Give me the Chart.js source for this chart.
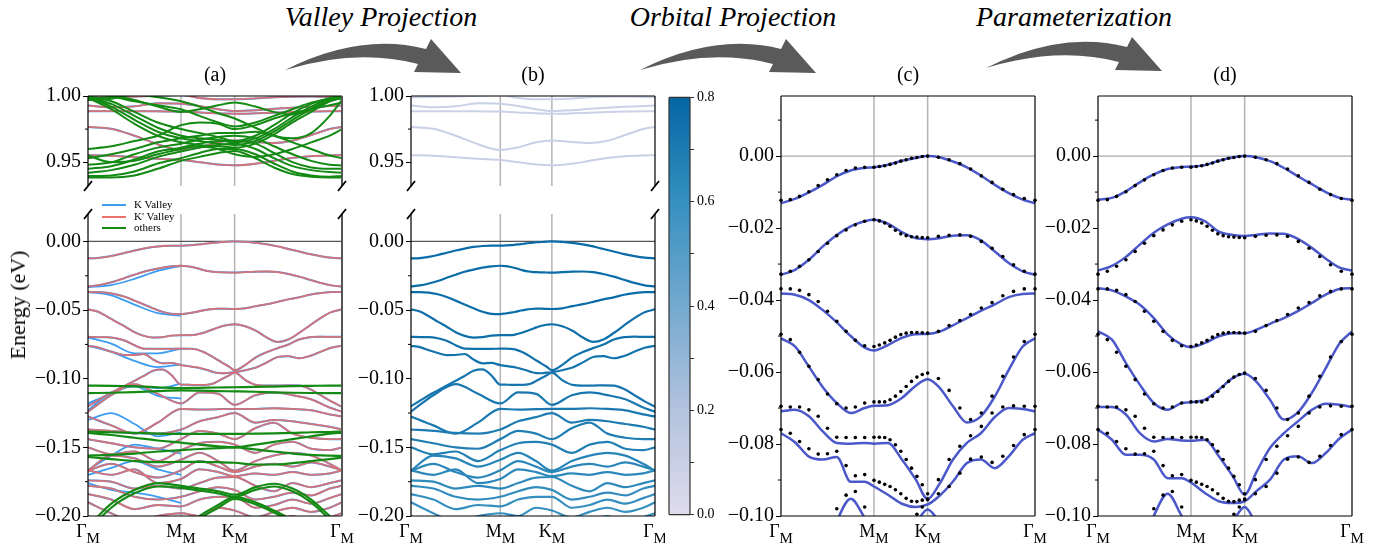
<!DOCTYPE html>
<html>
<head>
<meta charset="utf-8">
<title>Band structure projections</title>
<script src="https://cdn.jsdelivr.net/npm/chart.js@4.4.1/dist/chart.umd.min.js"></script>
<style>
  body { margin: 0; width: 1393px; height: 550px; position: relative; overflow: hidden; background: #fff;
         font-family: 'Liberation Serif', 'Times New Roman', serif; color: #000; }
  canvas { position: absolute; }
  .step { position: absolute; top: 3px; font-size: 28px; font-style: italic; line-height: 28px; transform: translateX(-50%); white-space: nowrap; z-index: 2; }
  .tag { position: absolute; top: 64px; font-size: 20px; line-height: 20px; transform: translateX(-50%); z-index: 2; }
  .ylab { position: absolute; left: 18px; top: 305px; font-size: 22px; line-height: 22px; white-space: nowrap; transform: translate(-50%, -50%) rotate(-90deg); z-index: 2; }
  .legend { position: absolute; left: 102px; top: 199px; font-size: 11px; line-height: 11.5px; z-index: 2; }
  .legend div { height: 11.5px; white-space: nowrap; }
  .legend i { display: inline-block; width: 24px; height: 2px; vertical-align: middle; margin-right: 8px; }
  svg { position: absolute; left: 0; top: 0; }
</style>
</head>
<body>
<svg width="1393" height="90">
  <g fill="#5a5a5a">
    <path transform="translate(285,70)" d="M0,0 Q75,-38 141,-21 L146,-31 L176,3 L129,2 L133,-6 Q72,-22 0,0 Z"/>
    <path transform="translate(640,70)" d="M0,0 Q75,-38 141,-21 L146,-31 L176,3 L129,2 L133,-6 Q72,-22 0,0 Z"/>
    <path transform="translate(986,68)" d="M0,0 Q75,-38 141,-21 L146,-31 L176,3 L129,2 L133,-6 Q72,-22 0,0 Z"/>
  </g>
</svg>
<div class="step" style="left:381px">Valley Projection</div>
<div class="step" style="left:733px">Orbital Projection</div>
<div class="step" style="left:1074px">Parameterization</div>
<div class="tag" style="left:215px">(a)</div>
<div class="tag" style="left:533px">(b)</div>
<div class="tag" style="left:908px">(c)</div>
<div class="tag" style="left:1225px">(d)</div>
<div class="ylab">Energy (eV)</div>
<div class="legend">
  <div><i style="background:#3d9cf2"></i>K Valley</div>
  <div><i style="background:#e8716c"></i>K' Valley</div>
  <div><i style="background:#138a13"></i>others</div>
</div>
<script>
// high-symmetry path Γ-M-K-Γ (path length units)
const K_TICKS = [0, 1, 1.5774, 2.7321];
const K_NAMES = ['Γ', 'M', 'K', 'Γ'];

// k grids
const K_DFT = [0, 0.1, 0.2, 0.3, 0.4, 0.5, 0.6, 0.7, 0.8, 0.9, 1.0,
  1.0577, 1.1155, 1.1732, 1.2309, 1.2887, 1.3464, 1.4041, 1.4619, 1.5196, 1.5774,
  1.6929, 1.8084, 1.9239, 2.0393, 2.1548, 2.2703, 2.3858, 2.5013, 2.6167, 2.7321];
const K_COARSE = [0, 0.25, 0.5, 0.75, 1, 1.2, 1.4, 1.5774, 1.8, 2.0, 2.2, 2.4, 2.6, 2.7321];
const K_FIT = [0, 0.15, 0.3, 0.45, 0.6, 0.75, 0.9, 1.0, 1.15, 1.3, 1.45, 1.5774, 1.7, 1.85, 2.0, 2.15, 2.3, 2.45, 2.6, 2.7321];
const K_GM = [0, 0.25, 0.5, 0.75, 1.0];

// top seven valence bands (DFT), also the dots of (c) and (d)
const DFT_BANDS = [
  [-0.0123,-0.0121,-0.0112,-0.0099,-0.0082,-0.0066,-0.0052,-0.0040,-0.0033,-0.0031,-0.0031,
   -0.0029,-0.0027,-0.0023,-0.0019,-0.0014,-0.0010,-0.0006,-0.0004,-0.0001,0.0000,
   -0.0003,-0.0010,-0.0021,-0.0036,-0.0055,-0.0073,-0.0092,-0.0107,-0.0118,-0.0123],
  [-0.0328,-0.0320,-0.0306,-0.0288,-0.0265,-0.0242,-0.0221,-0.0205,-0.0191,-0.0181,-0.0177,
   -0.0180,-0.0186,-0.0195,-0.0206,-0.0216,-0.0221,-0.0224,-0.0225,-0.0226,-0.0227,
   -0.0223,-0.0220,-0.0219,-0.0223,-0.0237,-0.0256,-0.0279,-0.0302,-0.0320,-0.0328],
  [-0.0369,-0.0369,-0.0373,-0.0385,-0.0404,-0.0431,-0.0459,-0.0487,-0.0512,-0.0527,-0.0529,
   -0.0525,-0.0519,-0.0512,-0.0503,-0.0496,-0.0492,-0.0490,-0.0490,-0.0491,-0.0492,
   -0.0487,-0.0471,-0.0457,-0.0440,-0.0422,-0.0407,-0.0388,-0.0376,-0.0369,-0.0369],
  [-0.0495,-0.0510,-0.0545,-0.0584,-0.0621,-0.0661,-0.0688,-0.0700,-0.0697,-0.0686,-0.0683,
   -0.0683,-0.0683,-0.0677,-0.0667,-0.0654,-0.0640,-0.0626,-0.0614,-0.0607,-0.0603,
   -0.0618,-0.0651,-0.0700,-0.0732,-0.0714,-0.0667,-0.0612,-0.0558,-0.0515,-0.0495],
  [-0.0695,-0.0697,-0.0697,-0.0705,-0.0723,-0.0756,-0.0781,-0.0782,-0.0782,-0.0782,-0.0781,
   -0.0781,-0.0782,-0.0788,-0.0802,-0.0820,-0.0843,-0.0867,-0.0890,-0.0913,-0.0938,
   -0.0899,-0.0843,-0.0806,-0.0777,-0.0751,-0.0714,-0.0697,-0.0694,-0.0695,-0.0695],
  [-0.0760,-0.0770,-0.0793,-0.0813,-0.0828,-0.0827,-0.0820,-0.0860,-0.0888,-0.0885,-0.0901,
   -0.0906,-0.0912,-0.0918,-0.0927,-0.0938,-0.0951,-0.0959,-0.0960,-0.0956,-0.0953,
   -0.0938,-0.0918,-0.0881,-0.0842,-0.0836,-0.0851,-0.0834,-0.0804,-0.0774,-0.0760],
  [-0.1200,-0.1160,-0.1120,-0.1085,-0.1050,-0.1015,-0.0980,-0.0942,-0.0932,-0.0975,-0.1043,
   -0.1043,-0.1045,-0.1045,-0.1045,-0.1043,-0.1035,-0.1015,-0.0995,-0.0975,-0.0955,
   -0.1010,-0.1045,-0.1050,-0.1050,-0.1048,-0.1050,-0.1075,-0.1120,-0.1165,-0.1205]
];

// deeper bands (coarse grid)
const LOW_BANDS = [
  [-0.1240,-0.1120,-0.1040,-0.1110,-0.1180,-0.1100,-0.1110,-0.1190,-0.1120,-0.1100,-0.1120,-0.1150,-0.1210,-0.1240],
  [-0.1275,-0.1340,-0.1400,-0.1320,-0.1220,-0.1225,-0.1222,-0.1220,-0.1220,-0.1215,-0.1220,-0.1230,-0.1260,-0.1275],
  [-0.1370,-0.1380,-0.1395,-0.1400,-0.1370,-0.1310,-0.1280,-0.1250,-0.1320,-0.1300,-0.1310,-0.1330,-0.1350,-0.1370],
  [-0.1440,-0.1470,-0.1500,-0.1510,-0.1440,-0.1380,-0.1400,-0.1440,-0.1360,-0.1320,-0.1400,-0.1430,-0.1440,-0.1440],
  [-0.1500,-0.1550,-0.1530,-0.1600,-0.1520,-0.1470,-0.1460,-0.1480,-0.1540,-0.1480,-0.1460,-0.1510,-0.1520,-0.1500],
  [-0.1670,-0.1560,-0.1580,-0.1640,-0.1590,-0.1540,-0.1600,-0.1670,-0.1600,-0.1560,-0.1540,-0.1560,-0.1620,-0.1670],
  [-0.1670,-0.1620,-0.1680,-0.1720,-0.1667,-0.1600,-0.1640,-0.1680,-0.1640,-0.1620,-0.1640,-0.1610,-0.1640,-0.1667],
  [-0.1667,-0.1700,-0.1660,-0.1760,-0.1730,-0.1660,-0.1680,-0.1710,-0.1690,-0.1700,-0.1680,-0.1700,-0.1690,-0.1667],
  [-0.1740,-0.1750,-0.1800,-0.1780,-0.1800,-0.1760,-0.1720,-0.1716,-0.1780,-0.1820,-0.1760,-0.1790,-0.1760,-0.1740],
  [-0.1780,-0.1800,-0.1860,-0.1880,-0.1860,-0.1820,-0.1790,-0.1810,-0.1880,-0.1860,-0.1830,-0.1850,-0.1800,-0.1780],
  [-0.1840,-0.1880,-0.1950,-0.1920,-0.1930,-0.1880,-0.1860,-0.1860,-0.1940,-0.1920,-0.1880,-0.1910,-0.1870,-0.1840],
  [-0.1900,-0.1980,-0.2040,-0.2000,-0.1980,-0.2000,-0.1940,-0.1960,-0.2010,-0.1970,-0.1940,-0.1970,-0.1940,-0.1900],
  [-0.2000,-0.2080,-0.2050,-0.2030,-0.2020,-0.2080,-0.2030,-0.2010,-0.2080,-0.2040,-0.2000,-0.2050,-0.2010,-0.1980]
];
// valley/orbital weight of bands 1..20 (colour of panel b)
const BAND_WEIGHT = [0.78,0.77,0.77,0.76,0.75,0.74,0.73,0.72,0.71,0.70,0.69,0.68,0.66,0.65,0.64,0.63,0.62,0.61,0.60,0.60];

// bands near 1 eV (coarse grid)
const TOP_BANDS = [
  [0.9990,0.9992,0.9996,1.0002,1.0008,0.9985,0.9975,0.9975,0.9982,0.9990,0.9995,0.9997,0.9993,0.9990],
  [0.9928,0.9915,0.9922,0.9945,0.9942,0.9925,0.9900,0.9886,0.9892,0.9903,0.9912,0.9918,0.9924,0.9928],
  [0.9885,0.9885,0.9885,0.9884,0.9882,0.9876,0.9869,0.9866,0.9869,0.9874,0.9879,0.9883,0.9885,0.9885],
  [0.9766,0.9752,0.9700,0.9635,0.9592,0.9612,0.9650,0.9664,0.9652,0.9645,0.9662,0.9705,0.9750,0.9766],
  [0.9553,0.9548,0.9538,0.9525,0.9517,0.9500,0.9482,0.9476,0.9488,0.9510,0.9532,0.9545,0.9551,0.9553]
];
const TOP_WEIGHT = [0.09,0.09,0.09,0.1,0.1];

// "others" bands of panel (a)
const GREEN_TOP = [
  [0.9385,0.9385,0.9400,0.9450,0.9510,0.9540,0.9570,0.9585,0.9530,0.9460,0.9410,0.9390,0.9385,0.9385],
  [0.9395,0.9400,0.9430,0.9490,0.9530,0.9570,0.9600,0.9600,0.9560,0.9490,0.9430,0.9400,0.9390,0.9395],
  [0.9420,0.9440,0.9480,0.9540,0.9580,0.9610,0.9630,0.9640,0.9600,0.9530,0.9470,0.9440,0.9425,0.9420],
  [0.9450,0.9470,0.9520,0.9580,0.9610,0.9640,0.9660,0.9660,0.9640,0.9570,0.9500,0.9460,0.9450,0.9450],
  [0.9480,0.9500,0.9560,0.9610,0.9640,0.9670,0.9690,0.9700,0.9680,0.9620,0.9560,0.9510,0.9480,0.9475],
  [0.9530,0.9560,0.9600,0.9650,0.9680,0.9700,0.9720,0.9720,0.9730,0.9700,0.9650,0.9600,0.9550,0.9530],
  [1.0000,0.9960,0.9880,0.9800,0.9750,0.9720,0.9690,0.9660,0.9700,0.9780,0.9870,0.9940,0.9985,1.0000],
  [0.9995,0.9940,0.9850,0.9760,0.9700,0.9680,0.9670,0.9650,0.9680,0.9750,0.9840,0.9920,0.9975,0.9995],
  [0.9990,0.9920,0.9820,0.9730,0.9680,0.9660,0.9640,0.9630,0.9660,0.9730,0.9820,0.9900,0.9970,0.9990],
  [0.9985,0.9900,0.9790,0.9700,0.9650,0.9630,0.9620,0.9610,0.9640,0.9710,0.9800,0.9880,0.9960,0.9985],
  [0.9980,0.9990,0.9960,0.9930,0.9900,0.9850,0.9800,0.9770,0.9800,0.9850,0.9900,0.9950,0.9975,0.9980],
  [1.0020,1.0000,0.9970,0.9920,0.9880,0.9900,0.9930,0.9950,0.9920,0.9880,0.9860,0.9900,0.9960,1.0010],
  [0.9970,0.9980,1.0010,0.9990,0.9960,0.9920,0.9870,0.9830,0.9760,0.9700,0.9680,0.9720,0.9850,0.9970],
  [0.9550,0.9500,0.9510,0.9560,0.9600,0.9620,0.9600,0.9560,0.9540,0.9560,0.9600,0.9650,0.9700,0.9750],
  [0.9600,0.9620,0.9660,0.9700,0.9780,0.9800,0.9790,0.9750,0.9780,0.9830,0.9870,0.9900,0.9930,0.9950]
];
const GREEN_LOW = [
  [-0.1050,-0.1052,-0.1056,-0.1062,-0.1068,-0.1066,-0.1064,-0.1062,-0.1060,-0.1057,-0.1054,-0.1052,-0.1050,-0.1050],
  [-0.1105,-0.1102,-0.1097,-0.1090,-0.1085,-0.1087,-0.1090,-0.1092,-0.1095,-0.1099,-0.1102,-0.1104,-0.1105,-0.1105],
  [-0.1385,-0.1390,-0.1395,-0.1400,-0.1402,-0.1402,-0.1402,-0.1402,-0.1400,-0.1398,-0.1395,-0.1390,-0.1388,-0.1385],
  [-0.1395,-0.1410,-0.1430,-0.1450,-0.1465,-0.1480,-0.1492,-0.1500,-0.1480,-0.1460,-0.1440,-0.1420,-0.1400,-0.1392],
  [-0.1560,-0.1555,-0.1545,-0.1530,-0.1520,-0.1512,-0.1505,-0.1500,-0.1515,-0.1530,-0.1545,-0.1555,-0.1560,-0.1562],
  [-0.1570,-0.1585,-0.1600,-0.1608,-0.1605,-0.1605,-0.1608,-0.1612,-0.1625,-0.1625,-0.1615,-0.1600,-0.1585,-0.1575],
  [-0.2080,-0.1910,-0.1810,-0.1760,-0.1780,-0.1800,-0.1820,-0.1845,-0.1790,-0.1765,-0.1800,-0.1880,-0.2000,-0.2080],
  [-0.2110,-0.1940,-0.1835,-0.1785,-0.1795,-0.1815,-0.1835,-0.1860,-0.1810,-0.1785,-0.1820,-0.1900,-0.2025,-0.2110],
  [-0.2400,-0.2350,-0.2300,-0.2220,-0.2120,-0.2000,-0.1920,-0.1860,-0.1900,-0.1960,-0.2030,-0.2120,-0.2220,-0.2300],
  [-0.2420,-0.2370,-0.2320,-0.2240,-0.2140,-0.2020,-0.1940,-0.1875,-0.1915,-0.1975,-0.2045,-0.2135,-0.2235,-0.2320]
];
// K-valley bands that split off along Γ-M
const BLUE_GM = [
  [-0.0332,-0.0318,-0.0272,-0.0214,-0.0177],
  [-0.0369,-0.0392,-0.0460,-0.0522,-0.0540],
  [-0.0700,-0.0745,-0.0815,-0.0815,-0.0780],
  [-0.0760,-0.0805,-0.0870,-0.0915,-0.0895],
  [-0.1180,-0.1110,-0.1050,-0.1070,-0.1036],
  [-0.1230,-0.1100,-0.1055,-0.1125,-0.1145],
  [-0.1300,-0.1250,-0.1330,-0.1420,-0.1390],
  [-0.1665,-0.1560,-0.1480,-0.1510,-0.1545],
  [-0.1700,-0.1650,-0.1600,-0.1660,-0.1700],
  [-0.1760,-0.1810,-0.1830,-0.1860,-0.1905]
];

// model bands, orbital projection (c) and parameterized (d)
const FIT_C = [
  [-0.0131,-0.0119,-0.0101,-0.0080,-0.0056,-0.0040,-0.0033,-0.0031,-0.0024,-0.0013,-0.0005,0.0000,-0.0003,-0.0015,-0.0031,-0.0054,-0.0080,-0.0103,-0.0121,-0.0131],
  [-0.0330,-0.0316,-0.0288,-0.0251,-0.0219,-0.0195,-0.0181,-0.0177,-0.0188,-0.0211,-0.0228,-0.0231,-0.0228,-0.0221,-0.0220,-0.0234,-0.0265,-0.0297,-0.0320,-0.0330],
  [-0.0382,-0.0385,-0.0400,-0.0428,-0.0462,-0.0500,-0.0532,-0.0540,-0.0525,-0.0505,-0.0495,-0.0494,-0.0488,-0.0470,-0.0450,-0.0430,-0.0412,-0.0392,-0.0383,-0.0382],
  [-0.0506,-0.0529,-0.0585,-0.0642,-0.0686,-0.0714,-0.0700,-0.0694,-0.0692,-0.0672,-0.0638,-0.0620,-0.0642,-0.0695,-0.0740,-0.0723,-0.0668,-0.0594,-0.0529,-0.0506],
  [-0.0709,-0.0705,-0.0723,-0.0765,-0.0797,-0.0799,-0.0797,-0.0799,-0.0797,-0.0843,-0.0899,-0.0953,-0.0913,-0.0843,-0.0797,-0.0770,-0.0725,-0.0700,-0.0703,-0.0709],
  [-0.0770,-0.0795,-0.0835,-0.0843,-0.0836,-0.0905,-0.0905,-0.0918,-0.0941,-0.0966,-0.0975,-0.0968,-0.0945,-0.0904,-0.0853,-0.0843,-0.0867,-0.0834,-0.0788,-0.0770],
  [-0.1300,-0.1250,-0.1200,-0.1120,-0.1015,-0.0952,-0.1005,-0.1045,-0.1070,-0.1060,-0.1020,-0.0982,-0.1015,-0.1060,-0.1080,-0.1090,-0.1100,-0.1120,-0.1150,-0.1180]
];
const FIT_D = [
  [-0.0121,-0.0116,-0.0098,-0.0073,-0.0051,-0.0036,-0.0030,-0.0029,-0.0025,-0.0013,-0.0004,0.0000,-0.0003,-0.0014,-0.0033,-0.0056,-0.0078,-0.0100,-0.0116,-0.0121],
  [-0.0318,-0.0305,-0.0280,-0.0246,-0.0213,-0.0190,-0.0174,-0.0170,-0.0181,-0.0210,-0.0219,-0.0222,-0.0219,-0.0215,-0.0216,-0.0230,-0.0255,-0.0285,-0.0310,-0.0318],
  [-0.0367,-0.0373,-0.0390,-0.0413,-0.0450,-0.0496,-0.0524,-0.0531,-0.0519,-0.0501,-0.0492,-0.0492,-0.0483,-0.0466,-0.0450,-0.0431,-0.0408,-0.0385,-0.0369,-0.0367],
  [-0.0487,-0.0510,-0.0575,-0.0635,-0.0686,-0.0705,-0.0686,-0.0684,-0.0677,-0.0649,-0.0617,-0.0605,-0.0626,-0.0677,-0.0732,-0.0712,-0.0658,-0.0589,-0.0520,-0.0487],
  [-0.0697,-0.0697,-0.0718,-0.0770,-0.0793,-0.0786,-0.0790,-0.0791,-0.0788,-0.0834,-0.0890,-0.0941,-0.0880,-0.0811,-0.0770,-0.0737,-0.0705,-0.0688,-0.0691,-0.0697],
  [-0.0760,-0.0788,-0.0830,-0.0830,-0.0843,-0.0895,-0.0895,-0.0907,-0.0936,-0.0959,-0.0964,-0.0959,-0.0932,-0.0899,-0.0843,-0.0834,-0.0853,-0.0825,-0.0784,-0.0760],
  [-0.1300,-0.1250,-0.1200,-0.1100,-0.1000,-0.0938,-0.1000,-0.1040,-0.1070,-0.1060,-0.1015,-0.0975,-0.1020,-0.1060,-0.1080,-0.1090,-0.1100,-0.1120,-0.1150,-0.1180]
];

// axis ticks
const Y_TICKS_TOP = [1.0, 0.95];
const Y_MINOR_TOP = [0.975];
const Y_TICKS_LOW = [0, -0.05, -0.1, -0.15, -0.2];
const Y_MINOR_LOW = [-0.025, -0.075, -0.125, -0.175];
const Y_TICKS_FIT = [0, -0.02, -0.04, -0.06, -0.08, -0.1];
const Y_MINOR_FIT = [0.01, -0.01, -0.03, -0.05, -0.07, -0.09];
const CBAR_TICKS = [0, 0.1, 0.2, 0.3, 0.4, 0.5, 0.6, 0.7, 0.8];

const FONT = "'Liberation Serif', 'Times New Roman', serif";
Chart.defaults.font.family = FONT;
Chart.defaults.color = '#000';

const CMAP = [[222,220,236],[180,195,222],[116,169,207],[54,144,192],[4,103,164]];
function cmap(v) {
  const t = Math.min(Math.max(v / 0.8, 0), 1) * 4;
  const i = Math.min(Math.floor(t), 3), f = t - i;
  const c = CMAP[i].map((a, j) => Math.round(a + (CMAP[i + 1][j] - a) * f));
  return `rgb(${c.join(',')})`;
}

const pts = (ks, es) => ks.map((k, i) => ({ x: k, y: es[i] }));
const line = (ks, es, color, width) => ({
  data: pts(ks, es), borderColor: color, borderWidth: width, pointRadius: 0,
  cubicInterpolationMode: 'monotone', clip: 0
});
const dots = (ks, es) => ({
  data: pts(ks, es), showLine: false, pointRadius: 1.8, pointHoverRadius: 0,
  pointBackgroundColor: '#000', pointBorderWidth: 0, clip: 4
});
const fmt2 = v => (v < -1e-9 ? '\u2212' : '') + Math.abs(v).toFixed(2);

// reference lines, spines, minor ticks, axis breaks and k labels
const deco = {
  id: 'deco',
  beforeDatasetsDraw(chart, args, o) {
    const { ctx, chartArea: a } = chart;
    const x = chart.scales.x, y = chart.scales.y;
    ctx.save();
    ctx.beginPath(); ctx.rect(a.left, a.top, a.width, a.height); ctx.clip();
    (o.vlines || []).forEach(v => {
      const p = x.getPixelForValue(v);
      ctx.strokeStyle = '#b4b4b4'; ctx.lineWidth = 1.5;
      ctx.beginPath(); ctx.moveTo(p, a.top); ctx.lineTo(p, a.bottom); ctx.stroke();
    });
    (o.hlines || []).forEach(h => {
      const p = y.getPixelForValue(h.v);
      ctx.strokeStyle = h.color; ctx.lineWidth = 1.3;
      ctx.beginPath(); ctx.moveTo(a.left, p); ctx.lineTo(a.right, p); ctx.stroke();
    });
    ctx.restore();
  },
  afterDatasetsDraw(chart, args, o) {
    const { ctx, chartArea: a } = chart;
    ctx.save();
    ctx.strokeStyle = o.frameColor || '#000'; ctx.lineWidth = 1.2;
    const s = o.sides || '';
    ctx.beginPath();
    if (s.includes('l')) { ctx.moveTo(a.left, a.top); ctx.lineTo(a.left, a.bottom); }
    if (s.includes('t')) { ctx.moveTo(a.left, a.top); ctx.lineTo(a.right, a.top); }
    if (s.includes('b')) { ctx.moveTo(a.left, a.bottom); ctx.lineTo(a.right, a.bottom); }
    ctx.stroke();
    if (s.includes('r')) {
      ctx.strokeStyle = o.rightColor || o.frameColor || '#000';
      ctx.lineWidth = o.rightWidth || 1.2;
      ctx.beginPath(); ctx.moveTo(a.right, a.top); ctx.lineTo(a.right, a.bottom); ctx.stroke();
    }
    if (o.minor) {
      const y = chart.scales.y;
      ctx.strokeStyle = '#000'; ctx.lineWidth = 1;
      ctx.beginPath();
      o.minor.forEach(v => {
        const p = y.getPixelForValue(v);
        if (p < a.top - 0.5 || p > a.bottom + 0.5) return;
        ctx.moveTo(a.left - 3, p); ctx.lineTo(a.left, p);
      });
      ctx.stroke();
    }
    if (o.breaks) {
      const cy = o.breaks === 'bottom' ? a.bottom : a.top;
      ctx.lineWidth = 1.8; ctx.strokeStyle = '#000';
      ctx.beginPath();
      [a.left, a.right].forEach(cx => { ctx.moveTo(cx - 4, cy + 5); ctx.lineTo(cx + 4, cy - 5); });
      ctx.stroke();
    }
    if (o.xlabels) {
      const x = chart.scales.x;
      ctx.fillStyle = '#000'; ctx.textBaseline = 'alphabetic'; ctx.textAlign = 'left';
      K_TICKS.forEach((k, i) => {
        const p = x.getPixelForValue(k);
        ctx.font = `18px ${FONT}`; const w1 = ctx.measureText(K_NAMES[i]).width;
        ctx.font = `15px ${FONT}`; const w2 = ctx.measureText('M').width;
        const x0 = p - (w1 + w2) / 2, base = a.bottom + 21;
        ctx.font = `18px ${FONT}`; ctx.fillText(K_NAMES[i], x0, base);
        ctx.font = `15px ${FONT}`; ctx.fillText('M', x0 + w1, base + 6);
      });
    }
    ctx.restore();
  }
};
Chart.register(deco);

function canvasFor(box) {
  const cv = document.createElement('canvas');
  cv.width = box.r - box.l + box.ml + box.mr;
  cv.height = box.b - box.t + box.mt + box.mb;
  cv.style.left = (box.l - box.ml) + 'px';
  cv.style.top = (box.t - box.mt) + 'px';
  document.body.appendChild(cv);
  return cv;
}

// sets are listed bottom layer first
function panel(box, range, ticks, decoOpts, sets) {
  return new Chart(canvasFor(box), {
    type: 'line',
    data: { datasets: sets.slice().reverse() },
    options: {
      responsive: false, animation: false, events: [],
      layout: { padding: { left: 0, right: box.mr, top: box.mt, bottom: 0 } },
      plugins: { legend: { display: false }, tooltip: { enabled: false }, deco: decoOpts },
      scales: {
        x: { type: 'linear', min: 0, max: K_TICKS[3], ticks: { display: false },
             grid: { display: false }, border: { display: false },
             afterFit: s => { s.height = box.mb; } },
        y: { type: 'linear', min: range[0], max: range[1],
             afterBuildTicks: s => { s.ticks = ticks.map(v => ({ value: v })); },
             ticks: { font: { size: 20 }, color: '#000', padding: 2, callback: fmt2 },
             grid: { drawOnChartArea: false, drawTicks: true, tickLength: 5, color: '#000', lineWidth: 1 },
             border: { display: false },
             afterFit: s => { s.width = box.ml; } }
      }
    }
  });
}

const BLUE = '#3d9cf2', RED = 'rgba(232,108,104,0.88)', GREEN = '#138a13';
const FIT_COLOR = 'rgba(55,70,195,0.9)';
const TOP_RANGE = [0.932, 1.0], LOW_RANGE = [-0.2, 0.02], FIT_RANGE = [-0.1, 0.0167];

// ---------- (a) valley projection ----------
{
  const top = [];
  TOP_BANDS.forEach(b => top.push(line(K_COARSE, b, BLUE, 2)));
  TOP_BANDS.forEach(b => top.push(line(K_COARSE, b, RED, 1.8)));
  GREEN_TOP.forEach(b => top.push(line(K_COARSE, b, GREEN, 2)));
  panel({ l: 88, t: 96, r: 342, b: 190, ml: 88, mr: 18, mt: 16, mb: 10 }, TOP_RANGE, Y_TICKS_TOP,
    { vlines: [1, 1.5774], sides: 'ltr', rightColor: '#555', rightWidth: 2, breaks: 'bottom', minor: Y_MINOR_TOP }, top);

  const low = [];
  DFT_BANDS.forEach(b => low.push(line(K_DFT, b, BLUE, 2)));
  LOW_BANDS.forEach(b => low.push(line(K_COARSE, b, BLUE, 2)));
  BLUE_GM.forEach(b => low.push(line(K_GM, b, BLUE, 1.8)));
  DFT_BANDS.forEach(b => low.push(line(K_DFT, b, RED, 1.8)));
  LOW_BANDS.forEach(b => low.push(line(K_COARSE, b, RED, 1.8)));
  GREEN_LOW.forEach(b => low.push(line(K_COARSE, b, GREEN, 2.2)));
  panel({ l: 88, t: 213, r: 342, b: 516, ml: 88, mr: 18, mt: 13, mb: 34 }, LOW_RANGE, Y_TICKS_LOW,
    { vlines: [1, 1.5774], hlines: [{ v: 0, color: '#555' }], sides: 'lrb', rightColor: '#555', rightWidth: 2,
      breaks: 'top', minor: Y_MINOR_LOW, xlabels: true }, low);
}

// ---------- (b) projected weight ----------
{
  const top = TOP_BANDS.map((b, i) => line(K_COARSE, b, cmap(TOP_WEIGHT[i]), 2));
  panel({ l: 411, t: 96, r: 655, b: 190, ml: 71, mr: 10, mt: 16, mb: 10 }, TOP_RANGE, Y_TICKS_TOP,
    { vlines: [1, 1.5774], sides: 'ltr', breaks: 'bottom', minor: Y_MINOR_TOP }, top);

  const low = [];
  LOW_BANDS.forEach((b, i) => low.push(line(K_COARSE, b, cmap(BAND_WEIGHT[i + 7]), 2.2)));
  DFT_BANDS.forEach((b, i) => low.push(line(K_DFT, b, cmap(BAND_WEIGHT[i]), 2.2)));
  panel({ l: 411, t: 213, r: 655, b: 516, ml: 71, mr: 10, mt: 13, mb: 34 }, LOW_RANGE, Y_TICKS_LOW,
    { vlines: [1, 1.5774], hlines: [{ v: 0, color: '#555' }], sides: 'lrb', breaks: 'top',
      minor: Y_MINOR_LOW, xlabels: true }, low);
}

// ---------- colour bar ----------
{
  const box = { l: 669, t: 96, r: 690, b: 516, ml: 9, mr: 40, mt: 10, mb: 10 };
  new Chart(canvasFor(box), {
    type: 'bar',
    data: { labels: [''], datasets: [{
      data: [CBAR_TICKS[CBAR_TICKS.length - 1]], barPercentage: 1, categoryPercentage: 1, borderWidth: 0,
      backgroundColor: c => {
        const a = c.chart.chartArea;
        if (!a) return '#888';
        const g = c.chart.ctx.createLinearGradient(0, a.bottom, 0, a.top);
        CMAP.forEach((rgb, i) => g.addColorStop(i / (CMAP.length - 1), `rgb(${rgb.join(',')})`));
        return g;
      }
    }] },
    options: {
      responsive: false, animation: false, events: [],
      layout: { padding: { left: box.ml, right: 0, top: box.mt, bottom: box.mb } },
      plugins: { legend: { display: false }, tooltip: { enabled: false }, deco: { sides: 'ltrb', frameColor: '#333' } },
      scales: {
        x: { display: false },
        y: { position: 'right', min: 0, max: 0.8,
             afterBuildTicks: s => { s.ticks = CBAR_TICKS.map(v => ({ value: v })); },
             ticks: { font: { size: 14 }, color: '#000', padding: 3,
                      callback: v => (Math.round(v * 10) % 2 === 0 ? v.toFixed(1) : '') },
             grid: { drawOnChartArea: false, drawTicks: true, tickLength: 4, color: '#333' },
             border: { display: false },
             afterFit: s => { s.width = box.mr; } }
      }
    }
  });
}

// ---------- (c) orbital projection, (d) parameterization ----------
[[781, FIT_C, 81, 15], [1098, FIT_D, 58, 41]].forEach(([left, fits, ml, mr]) => {
  const sets = [];
  fits.forEach(b => sets.push(line(K_FIT, b, FIT_COLOR, 2.5)));
  DFT_BANDS.forEach(b => sets.push(dots(K_DFT, b)));
  panel({ l: left, t: 96, r: left + 254, b: 516, ml, mr, mt: 16, mb: 34 }, FIT_RANGE, Y_TICKS_FIT,
    { vlines: [1, 1.5774], hlines: [{ v: 0, color: '#aaa' }], sides: 'ltrb', minor: Y_MINOR_FIT, xlabels: true }, sets);
});
</script>
</body>
</html>
